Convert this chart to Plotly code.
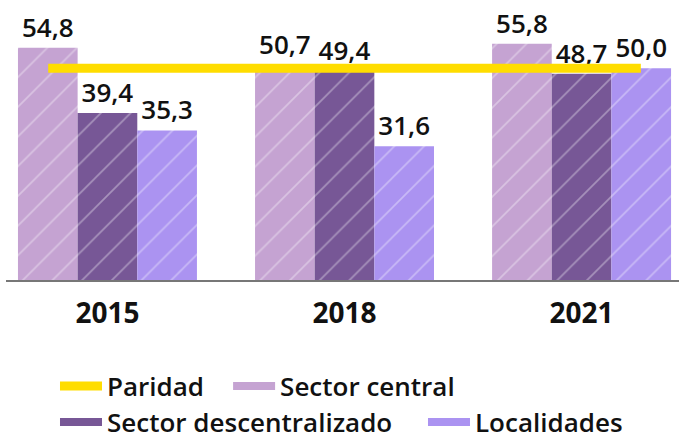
import plotly.graph_objects as go

# ---- data ----
years = ["2015", "2018", "2021"]
sector_central = [54.8, 50.7, 55.8]
sector_descentralizado = [39.4, 49.4, 48.7]
localidades = [35.3, 31.6, 50.0]
paridad = 50.0

series_names = ["Sector central", "Sector descentralizado", "Localidades"]
series_colors = ["#C5A3D2", "#775796", "#AB93F1"]
series_values = [sector_central, sector_descentralizado, localidades]
series_legend = ["legend2", "legend3", "legend4"]

FONT = "Open Sans, Noto Sans, sans-serif"
x_pos = list(range(len(years)))


def fmt(v):
    return f"{v:.1f}".replace(".", ",")


fig = go.Figure()

for name, vals, col in zip(series_names, series_values, series_colors):
    fig.add_trace(go.Bar(
        x=x_pos, y=vals, name=name,
        marker=dict(color=col, line=dict(width=0),
                    pattern=dict(shape="/", fgcolor="white", fgopacity=0.35,
                                 size=21, solidity=0.08)),
        text=[fmt(v) for v in vals], textposition="outside",
        textfont=dict(family=FONT, size=26, color="#111111", weight=600),
        cliponaxis=False, constraintext="none", showlegend=False,
    ))

# parity line (extends a quarter category beyond the first and last groups)
ext = 0.25
fig.add_trace(go.Scatter(
    x=[x_pos[0] - ext, x_pos[-1] + ext], y=[paridad, paridad],
    mode="lines", name="Paridad", line=dict(color="#FFDD00", width=9),
    legend="legend", hoverinfo="skip",
))

# legend entries for bars (flat bars)
for name, col, lg in zip(series_names, series_colors, series_legend):
    fig.add_trace(go.Scatter(
        x=[None], y=[None], mode="lines", name=name,
        line=dict(color=col, width=8), legend=lg,
    ))


def legend_at(x, y):
    return dict(orientation="h", xanchor="left", yanchor="middle",
                x=x, y=y, yref="container",
                font=dict(family=FONT, size=26, color="#111111", weight=600),
                bgcolor="rgba(0,0,0,0)", itemwidth=42)


fig.update_layout(
    width=679, height=437,
    margin=dict(l=6, r=0, t=0, b=157, autoexpand=False),
    paper_bgcolor="white", plot_bgcolor="white",
    bargap=0.245, bargroupgap=0,
    font=dict(family=FONT, color="#111111"),
    xaxis=dict(range=[-0.428, 2.411], tickvals=x_pos, ticktext=years,
               showline=True, linecolor="#777777", linewidth=2,
               showgrid=False, zeroline=False, ticks="",
               tickfont=dict(family=FONT, size=28, color="#111111", weight="bold"),
               ticklabelstandoff=7),
    yaxis=dict(range=[0, 66.1], visible=False),
    legend=legend_at(0.0728, 0.1167),
    legend2=legend_at(0.330, 0.1167),
    legend3=legend_at(0.0728, 0.034),
    legend4=legend_at(0.6196, 0.034),
)

fig.write_html("out.html",
               config={"displayModeBar": False},
               post_script="document.body.style.margin='0';document.body.style.overflow='hidden';")
